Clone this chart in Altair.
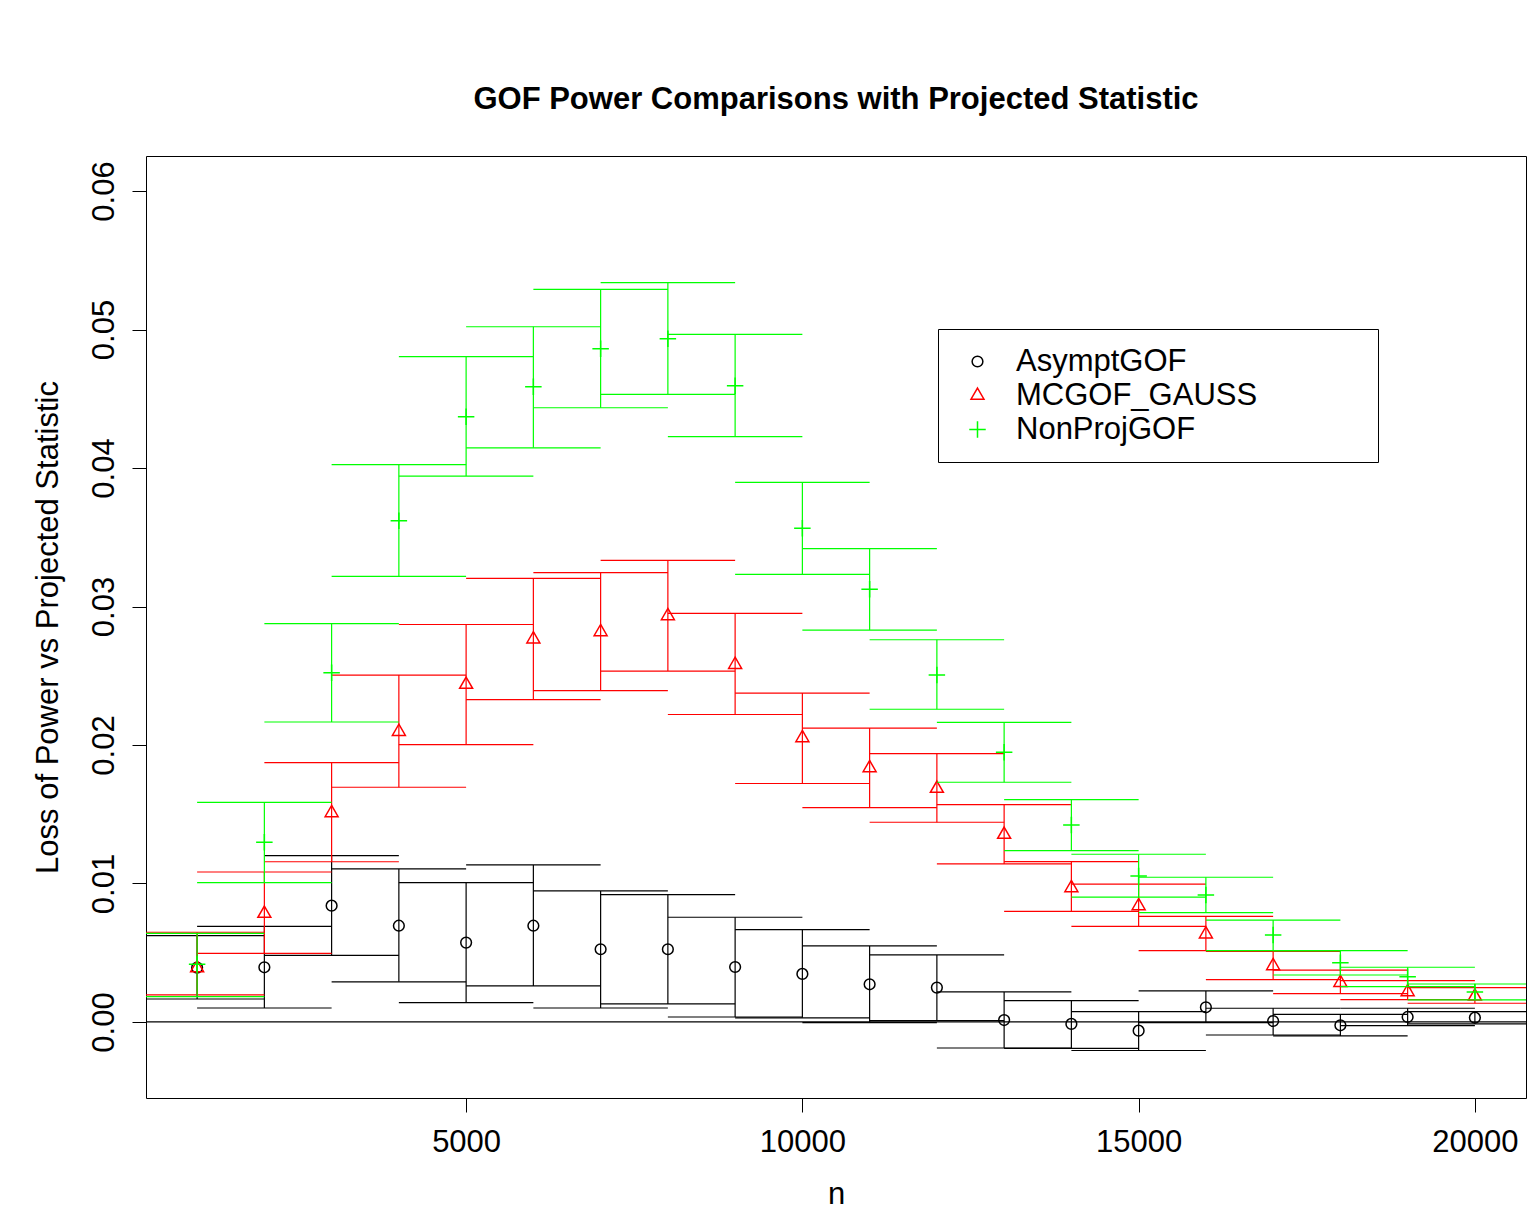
import altair as alt
import pandas as pd

# ---------------- data ----------------
n_values = [1000, 2000, 3000, 4000, 5000, 6000, 7000, 8000, 9000, 10000,
            11000, 12000, 13000, 14000, 15000, 16000, 17000, 18000, 19000, 20000]

series_names = ["AsymptGOF", "MCGOF_GAUSS", "NonProjGOF"]
series_colors = ["#000000", "#ff0000", "#00ff00"]

asympt_mid = [0.00392, 0.00395, 0.00840, 0.00695, 0.00573, 0.00695, 0.00525, 0.00525, 0.00397, 0.00347,
              0.00272, 0.00248, 0.00014, -0.00014, -0.00063, 0.00106, 0.00007, -0.00024, 0.00036, 0.00031]
asympt_lo = [0.00166, 0.00101, 0.00481, 0.00290, 0.00139, 0.00260, 0.00101, 0.00130, 0.00036, 0.00030,
             -0.00005, 0.00010, -0.00188, -0.00190, -0.00206, -0.00005, -0.00094, -0.00101, -0.00027, -0.00014]
asympt_hi = [0.00623, 0.00690, 0.01201, 0.01105, 0.01006, 0.01134, 0.00946, 0.00919, 0.00756, 0.00667,
             0.00549, 0.00484, 0.00217, 0.00154, 0.00075, 0.00224, 0.00099, 0.00055, 0.00099, 0.00075]

mcgof_mid = [0.00390, 0.00783, 0.01509, 0.02096, 0.02436, 0.02764, 0.02816, 0.02932, 0.02580, 0.02051,
             0.01834, 0.01685, 0.01353, 0.00968, 0.00838, 0.00634, 0.00405, 0.00284, 0.00217, 0.00185]
mcgof_lo = [0.00195, 0.00496, 0.01157, 0.01695, 0.02003, 0.02327, 0.02392, 0.02534, 0.02220, 0.01722,
            0.01548, 0.01442, 0.01141, 0.00798, 0.00690, 0.00515, 0.00306, 0.00204, 0.00161, 0.00135]
mcgof_hi = [0.00648, 0.01083, 0.01872, 0.02505, 0.02870, 0.03203, 0.03244, 0.03333, 0.02950, 0.02375,
            0.02122, 0.01937, 0.01569, 0.01158, 0.00996, 0.00763, 0.00510, 0.00375, 0.00298, 0.00248]

nonproj_mid = [0.00416, 0.01297, 0.02522, 0.03620, 0.04370, 0.04587, 0.04862, 0.04934, 0.04594, 0.03565,
               0.03124, 0.02505, 0.01947, 0.01422, 0.01054, 0.00917, 0.00628, 0.00428, 0.00327, 0.00217]
nonproj_lo = [0.00183, 0.01006, 0.02166, 0.03218, 0.03942, 0.04146, 0.04435, 0.04532, 0.04226, 0.03232,
              0.02830, 0.02258, 0.01731, 0.01237, 0.00901, 0.00789, 0.00515, 0.00339, 0.00255, 0.00159]
nonproj_hi = [0.00640, 0.01586, 0.02876, 0.04024, 0.04804, 0.05020, 0.05290, 0.05338, 0.04965, 0.03897,
              0.03418, 0.02760, 0.02164, 0.01605, 0.01211, 0.01045, 0.00736, 0.00515, 0.00395, 0.00274]

x_ticks = [5000, 10000, 15000, 20000]
y_ticks = [0.00, 0.01, 0.02, 0.03, 0.04, 0.05, 0.06]
cap_half_width = 1000

title_text = "GOF Power Comparisons with Projected Statistic"
x_title = "n"
y_title = "Loss of Power vs Projected Statistic"

# ---------------- table ----------------
rows = []
for name, mids, los, his in [
    (series_names[0], asympt_mid, asympt_lo, asympt_hi),
    (series_names[1], mcgof_mid, mcgof_lo, mcgof_hi),
    (series_names[2], nonproj_mid, nonproj_lo, nonproj_hi),
]:
    for n, m, lo, hi in zip(n_values, mids, los, his):
        rows.append({"series": name, "n": n, "mid": m, "lo": lo, "hi": hi})
df = pd.DataFrame(rows)

FONT = "Liberation Sans"
FS = 31

circle_path = "M0.65,0A0.65,0.65,0,1,1,-0.65,0A0.65,0.65,0,1,1,0.65,0Z"
tri_path = "M0,-0.909L0.787,0.4545L-0.787,0.4545Z"
plus_path = "M-1,0L1,0M0,-1L0,1"

x_scale = alt.Scale(domain=[240, 20760], nice=False, zero=False)
y_scale = alt.Scale(domain=[-0.00549, 0.06253], nice=False, zero=False)

x_axis = alt.Axis(values=x_ticks, format="d", tickSize=14, tickColor="black", tickWidth=1,
                  labelFontSize=FS, labelFont=FONT, labelColor="black",
                  labelPadding=39, labelBaseline="alphabetic", labelFlush=False,
                  labelOverlap=False, domain=False, grid=False,
                  titleFontSize=FS, titleFont=FONT, titleFontWeight="normal",
                  titleColor="black", titleX=690, titleY=105,
                  titleAlign="center", titleBaseline="alphabetic", zindex=1)
y_axis = alt.Axis(values=y_ticks, format=".2f", tickSize=14, tickColor="black",
                  tickWidth=1, labelFontSize=FS, labelFont=FONT, labelColor="black",
                  labelAngle=270, labelAlign="center", labelBaseline="alphabetic",
                  labelPadding=19, labelFlush=False, labelOverlap=False,
                  domain=False, grid=False,
                  titleFontSize=FS, titleFont=FONT, titleFontWeight="normal",
                  titleColor="black", titleAngle=270, titleX=-89, titleY=471,
                  titleAlign="center", titleBaseline="alphabetic", zindex=1)

# trailing blank room inside the legend box (zero-width end mark keeps the
# spaces from being trimmed when the label is measured)
label_tail = " " * 12 + "\u200b"
legend = alt.Legend(orient="none", legendX=792, legendY=173, padding=17,
                    strokeColor="black", fillColor="white",
                    labelFontSize=FS, labelFont=FONT, labelColor="black",
                    labelLimit=900, labelOffset=23, symbolOffset=7,
                    symbolSize=272, symbolStrokeWidth=1.5, rowPadding=2,
                    labelExpr="datum.label + '" + label_tail + "'", zindex=1)

color_enc = alt.Color("series:N", title=None,
                      scale=alt.Scale(domain=series_names, range=series_colors),
                      legend=legend)
shape_enc = alt.Shape("series:N", title=None,
                      scale=alt.Scale(domain=series_names,
                                      range=[circle_path, tri_path, plus_path]),
                      legend=legend)


def X(field):
    return alt.X(field, type="quantitative", scale=x_scale, axis=x_axis, title=x_title)


def Y(field):
    return alt.Y(field, type="quantitative", scale=y_scale, axis=y_axis, title=y_title)


base = alt.Chart(df).transform_calculate(
    n0=f"datum.n - {cap_half_width}", n1=f"datum.n + {cap_half_width}"
)

zero_line = alt.Chart(pd.DataFrame({"z": [0.0]})).mark_rule(
    color="black", strokeWidth=1.2
).encode(y=Y("z"))

layers = [zero_line]
for name in series_names:
    b = base.transform_filter(alt.datum.series == name)
    bars = b.mark_rule(strokeWidth=1.2, clip=True).encode(
        x=X("n"), y=Y("lo"), y2="hi", color=color_enc)
    lo_caps = b.mark_rule(strokeWidth=1.2, clip=True).encode(
        x=X("n0"), x2="n1", y=Y("lo"), color=color_enc)
    hi_caps = b.mark_rule(strokeWidth=1.2, clip=True).encode(
        x=X("n0"), x2="n1", y=Y("hi"), color=color_enc)
    pts = b.mark_point(filled=False, size=272, strokeWidth=1.5, opacity=1, clip=True).encode(
        x=X("n"), y=Y("mid"), color=color_enc, shape=shape_enc)
    layers += [bars, lo_caps, hi_caps, pts]

chart = alt.layer(*layers).properties(
    width=1380, height=942,
    padding={"left": 138, "top": 148, "right": 1, "bottom": 111},
    autosize=alt.AutoSizeParams(type="none"),
    title=alt.TitleParams(title_text, fontSize=FS, font=FONT, fontWeight="bold",
                          color="black", anchor="middle", frame="group",
                          offset=16, baseline="alphabetic"),
).configure(
    background="white", font=FONT
).configure_view(
    stroke="black", strokeWidth=1
)

chart.save("out.html", embed_options={"renderer": "svg", "actions": False})
